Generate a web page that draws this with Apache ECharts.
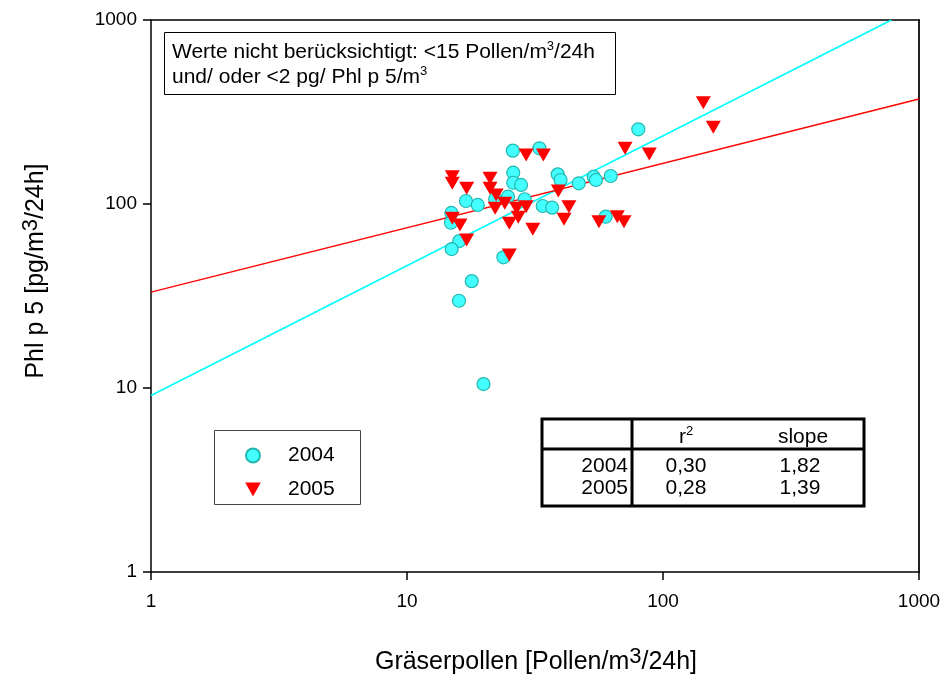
<!DOCTYPE html>
<html>
<head>
<meta charset="utf-8">
<script src="https://cdn.jsdelivr.net/npm/echarts@6/dist/echarts.min.js"></script>
<style>html,body{margin:0;padding:0;background:#fff}#c{width:945px;height:677px}</style>
</head>
<body>
<div id="c"></div>
<script>
// Data: [Gräserpollen, Phl p 5]
const data2004 = [
  [14.9, 89.4], [14.85, 79.1], [16.0, 62.9], [14.95, 56.9], [15.96, 29.8], [17.9, 38.1],
  [19.9, 10.5], [17.0, 103.8], [18.9, 98.8], [23.8, 51.3], [25.9, 195], [32.9, 200.8],
  [26.0, 148], [26.0, 130.5], [27.9, 126.9], [22.1, 106.5], [24.8, 109.6], [28.8, 106.1],
  [33.9, 97.5], [36.9, 95.5], [38.8, 145], [39.8, 135], [46.9, 129.6], [53.6, 140.7],
  [54.7, 135], [62.5, 142], [59.7, 85.3], [80.1, 254.7]
];
const data2005 = [
  [15.03, 140.7], [15.03, 129.6], [17.1, 121.7], [21.1, 137.9], [21.1, 121.7], [22.3, 111.9],
  [29.2, 184.6], [34.1, 184.6], [24.1, 100.9], [22.1, 94.8], [26.8, 94.8], [29.2, 96.7],
  [27.2, 84.7], [25.1, 78.5], [31.0, 72.9], [39.0, 117.7], [42.9, 96.7], [41.05, 82.6],
  [56.2, 80.1], [66.3, 85.3], [70.4, 80.1], [15.03, 83.6], [16.1, 76.9], [17.1, 63.7],
  [25.1, 52.8], [71.1, 200.8], [88.4, 186.9], [143.7, 355.2], [157.2, 261.2]
];
const fit2004 = [[1, 9.1], [780, 1000]];
const fit2005 = [[1, 33.2], [1000, 372]];
const seriesNames = ['2004', '2005'];
const tableHeader = ['', 'r²', 'slope'];
const tableRows = [['2004', '0,30', '1,82'], ['2005', '0,28', '1,39']];
const axisTicks = [1, 10, 100, 1000];

const FONT = 'Arial, "Liberation Sans", sans-serif';
const DOWN_TRI = 'path://M0,0 L10,0 L5,9 Z';
const chart = echarts.init(document.getElementById('c'), null, {renderer: 'canvas'});

const axisBase = {
  type: 'log', logBase: 10, min: 1, max: 1000,
  axisLine: {show: true, lineStyle: {color: '#000', width: 1.5}},
  axisTick: {show: true, inside: false, length: 8, lineStyle: {color: '#000', width: 1.5}},
  minorTick: {show: false},
  splitLine: {show: false},
};
const labelStyle = {color: '#000', fontFamily: FONT, fontSize: 19,
  formatter: v => String(Math.round(v))};

const g = [];
// Annotation box
g.push({type: 'rect', shape: {x: 164.5, y: 32.5, width: 451, height: 62},
  style: {fill: '#fff', stroke: '#000', lineWidth: 1}, z: 10});
g.push({type: 'text', x: 172, y: 52, z: 11, style: {
  text: 'Werte nicht berücksichtigt: <15 Pollen/m{s|3}/24h', font: '21px ' + FONT, fill: '#000',
  verticalAlign: 'middle', rich: {s: {fontSize: 13, verticalAlign: 'top', padding: [0, 0, 12, 0]}}}});
g.push({type: 'text', x: 172, y: 77, z: 11, style: {
  text: 'und/ oder <2 pg/ Phl p 5/m{s|3}', font: '21px ' + FONT, fill: '#000',
  verticalAlign: 'middle', rich: {s: {fontSize: 13, verticalAlign: 'top', padding: [0, 0, 12, 0]}}}});
// Legend box
g.push({type: 'rect', shape: {x: 214.5, y: 430.5, width: 146, height: 74},
  style: {fill: '#fff', stroke: '#444', lineWidth: 1}, z: 1});
// Table
const tx = 542, ty = 419, tw = 322, th = 87, cx = 632, ry = 449;
g.push({type: 'rect', shape: {x: tx, y: ty, width: tw, height: th},
  style: {fill: '#fff', stroke: '#000', lineWidth: 3}, z: 10});
g.push({type: 'line', shape: {x1: cx, y1: ty, x2: cx, y2: ty + th}, style: {stroke: '#000', lineWidth: 3}, z: 11});
g.push({type: 'line', shape: {x1: tx, y1: ry, x2: tx + tw, y2: ry}, style: {stroke: '#000', lineWidth: 3}, z: 11});
g.push({type: 'text', x: 686, y: 437, z: 11, style: {text: 'r{s|2}', font: '21px ' + FONT, fill: '#000',
  align: 'center', verticalAlign: 'middle', rich: {s: {fontSize: 13, verticalAlign: 'top', padding: [0, 0, 12, 0]}}}});
g.push({type: 'text', x: 803, y: 437, z: 11, style: {text: tableHeader[2], font: '21px ' + FONT, fill: '#000',
  align: 'center', verticalAlign: 'middle'}});
tableRows.forEach((r, i) => {
  const y = 466 + i * 22;
  g.push({type: 'text', x: 628, y: y, z: 11, style: {text: r[0], font: '21px ' + FONT, fill: '#000', align: 'right', verticalAlign: 'middle'}});
  g.push({type: 'text', x: 686, y: y, z: 11, style: {text: r[1], font: '21px ' + FONT, fill: '#000', align: 'center', verticalAlign: 'middle'}});
  g.push({type: 'text', x: 800, y: y, z: 11, style: {text: r[2], font: '21px ' + FONT, fill: '#000', align: 'center', verticalAlign: 'middle'}});
});
// Axis titles
g.push({type: 'text', x: 536, y: 662, z: 11, style: {
  text: 'Gräserpollen [Pollen/m{s|3}/24h]', font: '25px ' + FONT, fill: '#000', align: 'center', verticalAlign: 'middle',
  rich: {s: {fontSize: 22, verticalAlign: 'top', padding: [0, 0, 10, 0]}}}});
g.push({type: 'text', x: 36, y: 271, rotation: Math.PI / 2, z: 11, style: {
  text: 'Phl p 5 [pg/m{s|3}/24h]', font: '25px ' + FONT, fill: '#000', align: 'center', verticalAlign: 'middle',
  rich: {s: {fontSize: 22, verticalAlign: 'top', padding: [0, 0, 10, 0]}}}});

chart.setOption({
  animation: false,
  backgroundColor: '#fff',
  grid: {left: 151, right: 26, top: 20, bottom: 105, containLabel: false},
  legend: {
    orient: 'vertical', left: 240, top: 440, itemWidth: 16, itemHeight: 14, itemGap: 13, z: 20,
    data: [{name: seriesNames[0], icon: 'circle'}, {name: seriesNames[1], icon: DOWN_TRI}],
    selectedMode: false,
    itemStyle: {borderColor: 'inherit'},
    textStyle: {color: '#000', fontFamily: FONT, fontSize: 21, padding: [0, 0, 0, 22]}
  },
  xAxis: [
    Object.assign({}, axisBase, {position: 'bottom',
      axisLabel: Object.assign({}, labelStyle, {margin: 20})}),
    Object.assign({}, axisBase, {position: 'top', axisLabel: {show: false}, axisTick: {show: false}})
  ],
  yAxis: [
    Object.assign({}, axisBase, {position: 'left',
      axisLabel: Object.assign({}, labelStyle, {margin: 14})}),
    Object.assign({}, axisBase, {position: 'right', axisLabel: {show: false}, axisTick: {show: false},
      axisLine: {show: true, lineStyle: {color: '#222', width: 2}}})
  ],
  series: [
    {name: 'fit2004', type: 'line', data: fit2004, symbol: 'none', z: 1, clip: true,
      lineStyle: {color: '#00FFFF', width: 1.6}, silent: true},
    {name: 'fit2005', type: 'line', data: fit2005, symbol: 'none', z: 1, clip: true,
      lineStyle: {color: '#FF0000', width: 1.4}, silent: true},
    {name: seriesNames[0], type: 'scatter', data: data2004, symbol: 'circle', symbolSize: 13, z: 3,
      itemStyle: {color: '#44FFFF', borderColor: '#22B8B0', borderWidth: 1.2, opacity: 1}},
    {name: seriesNames[1], type: 'scatter', data: data2005, symbol: 'triangle', symbolRotate: 180,
      symbolSize: [15, 13], z: 4, itemStyle: {color: '#FF0000', opacity: 1}}
  ],
  graphic: g
});
</script>
</body>
</html>
